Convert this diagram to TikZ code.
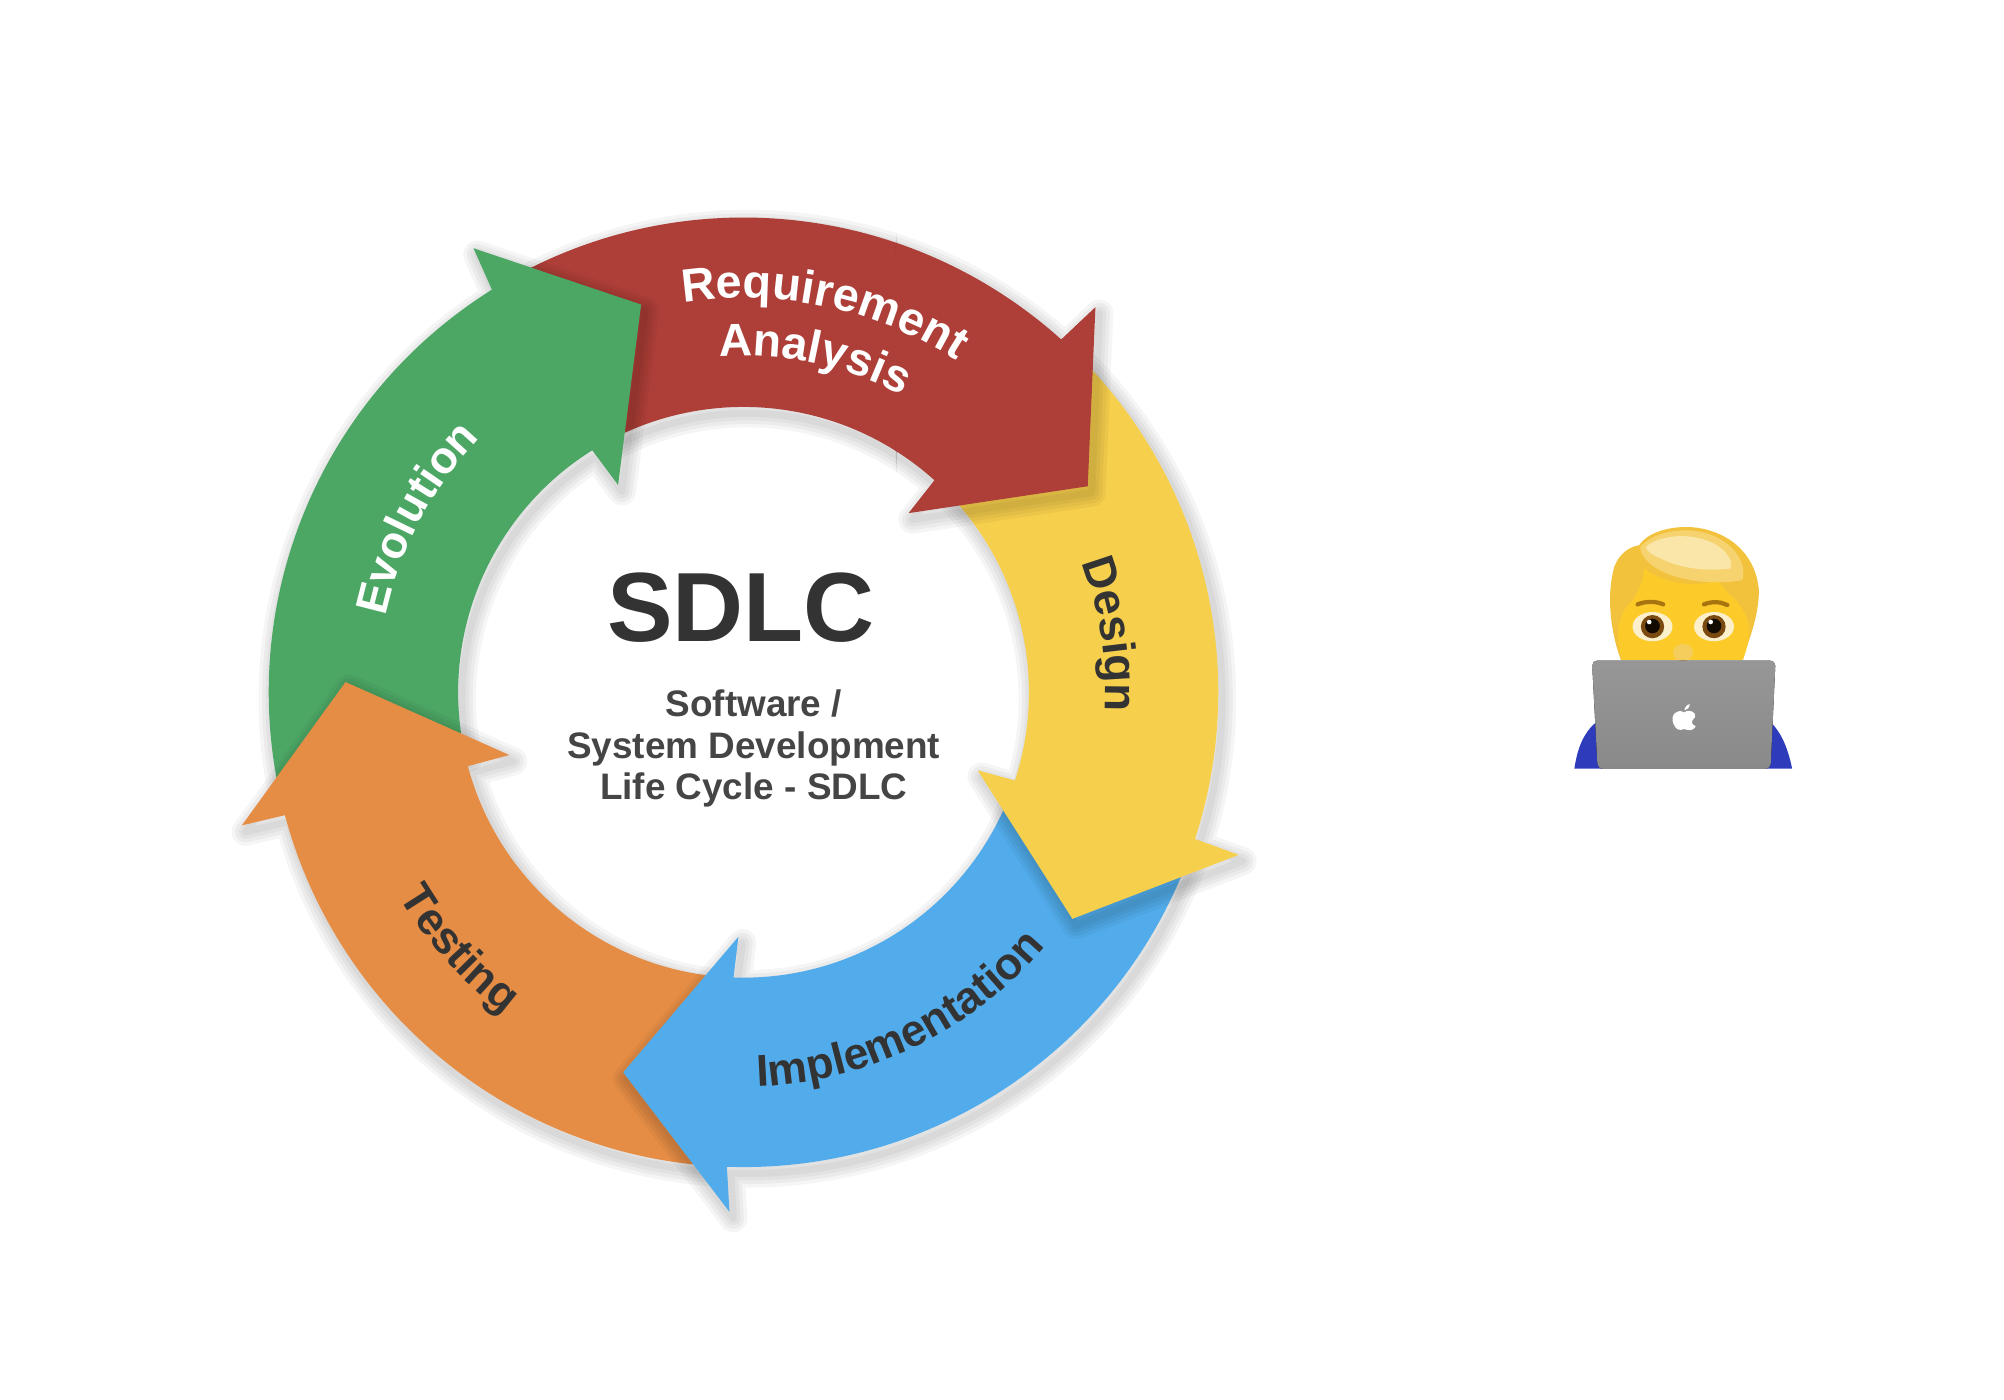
\documentclass[tikz,border=0pt]{standalone}
\usepackage{fontspec}
\setmainfont{Liberation Sans}
\usetikzlibrary{decorations.text}

\definecolor{reqred}{HTML}{AD3F38}
\definecolor{designyellow}{HTML}{F6CF4D}
\definecolor{implblue}{HTML}{52ACEB}
\definecolor{testorange}{HTML}{E68D45}
\definecolor{evolgreen}{HTML}{4CA765}
\definecolor{darktext}{HTML}{333333}
\definecolor{subtext}{HTML}{454545}
\definecolor{hairgold}{HTML}{F3C23C}
\definecolor{hairmid}{HTML}{F6D36F}
\definecolor{hairlight}{HTML}{F9E6A8}
\definecolor{faceyellow}{HTML}{FCCB2A}
\definecolor{browbrown}{HTML}{A8740F}
\definecolor{irisbrown}{HTML}{7A4A10}
\definecolor{shirtblue}{HTML}{2E3CBC}

\tikzset{
    shadowline/.style={black, opacity=.04, line join=round, shift={(3,-5)}},
    laptopgrey/.style={top color=black!41, bottom color=black!46},
    eyewhite/.style={fill=hairlight!60!white}
}

% arrow outlines, centre of the ring is the origin
\newcommand{\redpath}{(118:371) arc[start angle=118, end angle=48, radius=371] -- (275,301) -- (269,161) -- (129,140) -- (48:223) arc[start angle=48, end angle=118, radius=223] -- cycle}
\newcommand{\yellowpath}{(45:371) arc[start angle=45, end angle=-18, radius=371] -- (387,-127) -- (257,-177) -- (183,-61) -- (-18:223) arc[start angle=-18, end angle=45, radius=223] -- cycle}
\newcommand{\bluepath}{(-20:371) arc[start angle=-20, end angle=-92, radius=371] -- (-11,-406) -- (-94,-297) -- (-4,-191) -- (-92:223) arc[start angle=-92, end angle=-20, radius=223] -- cycle}
\newcommand{\orangepath}{(265:371) arc[start angle=265, end angle=195, radius=371] -- (-392,-104) -- (-311,8) -- (-183,-49) -- (195:223) arc[start angle=195, end angle=265, radius=223] -- cycle}
\newcommand{\greenpath}{(192:371) arc[start angle=192, end angle=122, radius=371] -- (-211,347) -- (-80,303) -- (-98,162) -- (122:223) arc[start angle=122, end angle=192, radius=223] -- cycle}

\newcommand{\ringarrow}[2]{
    \foreach \w in {8,6,4,2} {\draw[shadowline, line width=\w pt] #2;}
    \fill[#1] #2;
}
\newcommand{\ringlabel}[6]{
    \path[decorate, decoration={text along path, text align=center, text={|\color{#1}\fontsize{#6}{16}\selectfont\bfseries|#5}}]
        (#3:#2) arc[start angle=#3, end angle=#4, radius=#2];
}

\begin{document}
\begin{tikzpicture}[x=0.012797cm, y=0.012797cm]
    \useasboundingbox (0,0) rectangle (1566,1094);

    \begin{scope}[shift={(581,553)}]
        % red is split so that its head lies on yellow and its tail under green
        \begin{scope}
            \clip (-581,-553) rectangle (120,541);
            \ringarrow{reqred}{\redpath}
        \end{scope}
        \ringarrow{evolgreen}{\greenpath}
        \ringarrow{testorange}{\orangepath}
        \ringarrow{implblue}{\bluepath}
        \ringarrow{designyellow}{\yellowpath}
        \begin{scope}
            \clip (119,-553) rectangle (985,541);
            \ringarrow{reqred}{\redpath}
        \end{scope}

        \ringlabel{white}{308}{110}{46}{Requirement}{13.3}
        \ringlabel{white}{263}{110}{46}{Analysis}{13.1}
        \ringlabel{darktext}{283}{48}{-30}{Design}{13}
        \ringlabel{darktext}{308}{-110}{-18}{Implementation}{12.7}
        \ringlabel{darktext}{313}{190}{254}{Testing}{12.8}
        \ringlabel{white}{286}{189}{115}{Evolution}{12.8}

        \node (sdlctitle) at (-2,66) {\fontsize{28}{30}\selectfont\bfseries\color{darktext} SDLC};
        \node[align=center, text=subtext, font=\fontsize{10.5}{11.84}\selectfont\bfseries] (sdlcsub) at (8,-44) {Software /\\System Development\\Life Cycle - SDLC};
    \end{scope}

    % person behind the laptop
    \begin{scope}[shift={(15.4cm,9cm)}, x=0.003333cm, y=-0.003333cm]
        \fill[shirtblue] (105,807) .. controls (115,740) and (135,700) .. (165,672) -- (700,672) .. controls (735,710) and (750,760) .. (760,807) -- cycle;
        \fill[hairgold] (245,480) .. controls (215,400) and (200,290) .. (225,200) .. controls (240,160) and (270,140) .. (300,135) .. controls (330,90) and (410,75) .. (470,82) .. controls (570,95) and (650,160) .. (660,270) .. controls (660,350) and (630,420) .. (610,480) -- cycle;
        \fill[faceyellow] (248,480) .. controls (232,420) and (230,370) .. (262,320) .. controls (285,300) and (310,260) .. (315,205) .. controls (370,250) and (470,265) .. (540,240) .. controls (555,280) and (590,290) .. (605,320) .. controls (645,370) and (630,430) .. (612,480) -- cycle;
        \fill[hairmid] (303,140) .. controls (350,90) and (440,80) .. (505,100) .. controls (585,125) and (625,190) .. (610,240) .. controls (530,255) and (410,245) .. (345,200) .. controls (318,180) and (303,160) .. (303,140) -- cycle;
        \fill[hairlight] (320,140) .. controls (360,105) and (440,100) .. (495,118) .. controls (550,135) and (585,175) .. (575,205) .. controls (510,215) and (420,205) .. (365,175) .. controls (340,165) and (322,155) .. (320,140) -- cycle;
        \draw[browbrown, line width=1.2pt, line cap=round] (295,313) .. controls (320,303) and (350,303) .. (372,313);
        \draw[browbrown, line width=1.2pt, line cap=round] (495,313) .. controls (520,303) and (545,305) .. (565,315);
        \fill[eyewhite] (340,380) ellipse[x radius=60, y radius=44];
        \fill[eyewhite] (525,380) ellipse[x radius=60, y radius=44];
        \fill[irisbrown] (340,380) circle[radius=35];
        \fill[irisbrown] (525,380) circle[radius=35];
        \fill[black!85!irisbrown] (340,378) circle[radius=22];
        \fill[black!85!irisbrown] (525,378) circle[radius=22];
        \fill[white] (330,366) circle[radius=7];
        \fill[white] (515,366) circle[radius=7];
        \fill[hairgold!70!hairlight] (432,458) ellipse[x radius=30, y radius=26];
        \fill[laptopgrey, rounded corners=1.5pt] (158,482) -- (710,482) -- (695,808) -- (175,808) -- cycle;
        % apple logo
        \fill[white] (435,638) .. controls (455,625) and (472,640) .. (468,652) .. controls (455,665) and (455,672) .. (470,680) .. controls (462,695) and (448,692) .. (435,688) .. controls (420,694) and (410,690) .. (403,672) .. controls (392,645) and (415,625) .. (435,638) -- cycle;
        \fill[white] (436,632) .. controls (436,622) and (445,614) .. (452,613) .. controls (452,623) and (445,630) .. (436,632) -- cycle;
    \end{scope}
\end{tikzpicture}
\end{document}
